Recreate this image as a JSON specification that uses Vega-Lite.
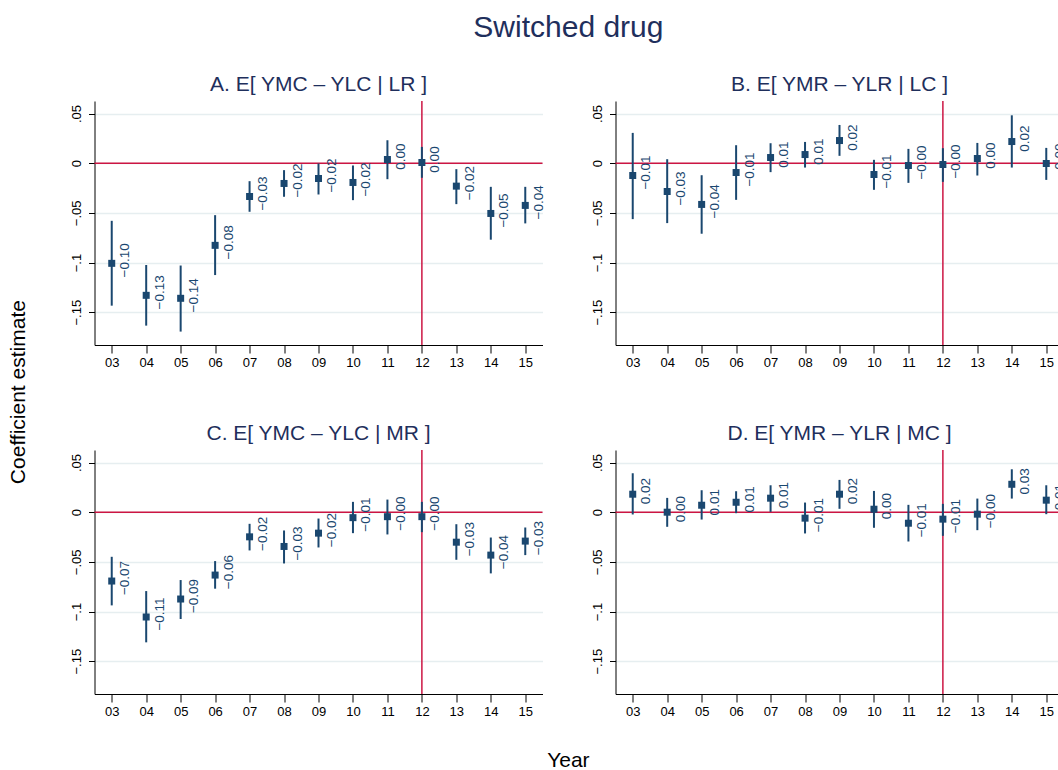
{
  "$schema": "https://vega.github.io/schema/vega-lite/v6.json",
  "padding": {"left": 6.5, "top": 13, "right": 0, "bottom": 0},
  "background": "white",
  "config": {
    "font": "Liberation Sans",
    "view": {"stroke": null},
    "axis": {"domainColor": "#000000", "domainWidth": 1, "tickColor": "#000000", "tickWidth": 1, "tickSize": 6, "labelColor": "#000000", "labelFontSize": 13, "labelFont": "Liberation Sans", "gridColor": "#e6eef0", "gridWidth": 1.5, "labelOverlap": false, "labelBound": false},
    "axisY": {"labelAngle": 270, "labelAlign": "center", "labelBaseline": "bottom", "labelPadding": 5},
    "axisX": {"labelPadding": 3, "tickSize": 8, "labelAngle": 0, "domain": true},
    "title": {"font": "Liberation Sans", "fontWeight": "normal", "color": "#1f2f5c", "fontSize": 21, "offset": 5, "anchor": "middle"}
  },
  "datasets": {
    "est": [
      {"panel": "A", "year": 3, "est": -0.1008, "lo": -0.1434, "hi": -0.058, "label": "−0.10"},
      {"panel": "A", "year": 4, "est": -0.133, "lo": -0.1635, "hi": -0.1025, "label": "−0.13"},
      {"panel": "A", "year": 5, "est": -0.136, "lo": -0.1695, "hi": -0.103, "label": "−0.14"},
      {"panel": "A", "year": 6, "est": -0.0827, "lo": -0.1126, "hi": -0.0523, "label": "−0.08"},
      {"panel": "A", "year": 7, "est": -0.0335, "lo": -0.0489, "hi": -0.0181, "label": "−0.03"},
      {"panel": "A", "year": 8, "est": -0.0204, "lo": -0.0338, "hi": -0.007, "label": "−0.02"},
      {"panel": "A", "year": 9, "est": -0.0154, "lo": -0.0315, "hi": -0.0003, "label": "−0.02"},
      {"panel": "A", "year": 10, "est": -0.0194, "lo": -0.0372, "hi": -0.0023, "label": "−0.02"},
      {"panel": "A", "year": 11, "est": 0.0037, "lo": -0.0161, "hi": 0.0231, "label": "0.00"},
      {"panel": "A", "year": 12, "est": 0.0007, "lo": -0.0147, "hi": 0.0164, "label": "0.00"},
      {"panel": "A", "year": 13, "est": -0.0231, "lo": -0.0412, "hi": -0.006, "label": "−0.02"},
      {"panel": "A", "year": 14, "est": -0.0506, "lo": -0.077, "hi": -0.0238, "label": "−0.05"},
      {"panel": "A", "year": 15, "est": -0.0425, "lo": -0.0606, "hi": -0.0238, "label": "−0.04"},
      {"panel": "B", "year": 3, "est": -0.0124, "lo": -0.0563, "hi": 0.0305, "label": "−0.01"},
      {"panel": "B", "year": 4, "est": -0.0285, "lo": -0.0603, "hi": 0.004, "label": "−0.03"},
      {"panel": "B", "year": 5, "est": -0.0415, "lo": -0.071, "hi": -0.0121, "label": "−0.04"},
      {"panel": "B", "year": 6, "est": -0.0094, "lo": -0.0369, "hi": 0.0181, "label": "−0.01"},
      {"panel": "B", "year": 7, "est": 0.0057, "lo": -0.009, "hi": 0.0201, "label": "0.01"},
      {"panel": "B", "year": 8, "est": 0.0087, "lo": -0.0044, "hi": 0.0214, "label": "0.01"},
      {"panel": "B", "year": 9, "est": 0.0228, "lo": 0.0074, "hi": 0.0385, "label": "0.02"},
      {"panel": "B", "year": 10, "est": -0.0114, "lo": -0.0268, "hi": 0.0034, "label": "−0.01"},
      {"panel": "B", "year": 11, "est": -0.0023, "lo": -0.0198, "hi": 0.0144, "label": "−0.00"},
      {"panel": "B", "year": 12, "est": -0.0013, "lo": -0.0188, "hi": 0.0151, "label": "−0.00"},
      {"panel": "B", "year": 13, "est": 0.0047, "lo": -0.0124, "hi": 0.0204, "label": "0.00"},
      {"panel": "B", "year": 14, "est": 0.0218, "lo": -0.0044, "hi": 0.0482, "label": "0.02"},
      {"panel": "B", "year": 15, "est": -0.0003, "lo": -0.0168, "hi": 0.0154, "label": "−0.00"},
      {"panel": "C", "year": 3, "est": -0.0693, "lo": -0.0938, "hi": -0.0449, "label": "−0.07"},
      {"panel": "C", "year": 4, "est": -0.1055, "lo": -0.131, "hi": -0.0794, "label": "−0.11"},
      {"panel": "C", "year": 5, "est": -0.0874, "lo": -0.1075, "hi": -0.0683, "label": "−0.09"},
      {"panel": "C", "year": 6, "est": -0.0633, "lo": -0.077, "hi": -0.0492, "label": "−0.06"},
      {"panel": "C", "year": 7, "est": -0.0248, "lo": -0.0385, "hi": -0.0117, "label": "−0.02"},
      {"panel": "C", "year": 8, "est": -0.0345, "lo": -0.0516, "hi": -0.0184, "label": "−0.03"},
      {"panel": "C", "year": 9, "est": -0.0211, "lo": -0.0355, "hi": -0.0064, "label": "−0.02"},
      {"panel": "C", "year": 10, "est": -0.0055, "lo": -0.0211, "hi": 0.0104, "label": "−0.01"},
      {"panel": "C", "year": 11, "est": -0.0045, "lo": -0.0224, "hi": 0.0127, "label": "−0.00"},
      {"panel": "C", "year": 12, "est": -0.0045, "lo": -0.0201, "hi": 0.0104, "label": "−0.00"},
      {"panel": "C", "year": 13, "est": -0.0302, "lo": -0.0479, "hi": -0.0121, "label": "−0.03"},
      {"panel": "C", "year": 14, "est": -0.0432, "lo": -0.0616, "hi": -0.0255, "label": "−0.04"},
      {"panel": "C", "year": 15, "est": -0.0291, "lo": -0.0432, "hi": -0.0154, "label": "−0.03"},
      {"panel": "D", "year": 3, "est": 0.0181, "lo": -0.0023, "hi": 0.0392, "label": "0.02"},
      {"panel": "D", "year": 4, "est": 0.0, "lo": -0.0147, "hi": 0.0144, "label": "0.00"},
      {"panel": "D", "year": 5, "est": 0.007, "lo": -0.0074, "hi": 0.0221, "label": "0.01"},
      {"panel": "D", "year": 6, "est": 0.01, "lo": -0.001, "hi": 0.0211, "label": "0.01"},
      {"panel": "D", "year": 7, "est": 0.0141, "lo": 0.0003, "hi": 0.0271, "label": "0.01"},
      {"panel": "D", "year": 8, "est": -0.006, "lo": -0.0214, "hi": 0.0097, "label": "−0.01"},
      {"panel": "D", "year": 9, "est": 0.0181, "lo": 0.0034, "hi": 0.0325, "label": "0.02"},
      {"panel": "D", "year": 10, "est": 0.003, "lo": -0.0157, "hi": 0.0214, "label": "0.00"},
      {"panel": "D", "year": 11, "est": -0.0111, "lo": -0.0295, "hi": 0.0074, "label": "−0.01"},
      {"panel": "D", "year": 12, "est": -0.007, "lo": -0.0238, "hi": 0.0084, "label": "−0.01"},
      {"panel": "D", "year": 13, "est": -0.002, "lo": -0.0181, "hi": 0.0137, "label": "−0.00"},
      {"panel": "D", "year": 14, "est": 0.0281, "lo": 0.0137, "hi": 0.0432, "label": "0.03"},
      {"panel": "D", "year": 15, "est": 0.0121, "lo": -0.002, "hi": 0.0271, "label": "0.01"}
    ]
  },
  "title": {"text": "Coefficient estimate", "orient": "left", "fontSize": 21, "color": "#000000", "offset": 42, "anchor": "middle"},
  "vconcat": [
    {
      "title": {"text": "Switched drug", "fontSize": 30, "color": "#1f2f5c", "offset": 31, "anchor": "middle"},
      "vconcat": [
        {
          "title": {"text": "Year", "orient": "bottom", "fontSize": 21, "color": "#000000", "offset": 32, "anchor": "middle"},
          "columns": 2,
          "spacing": {"row": 105, "column": 73},
          "bounds": "flush",
          "concat": [
            {
              "width": 448, "height": 244,
              "title": {"text": "A. E[ YMC – YLC | LR ]"},
              "data": {"name": "est"},
              "transform": [{"filter": "datum.panel == 'A'"}],
              "layer": [
                {"data": {"values": [{}]}, "mark": {"type": "rule", "color": "#cc1543", "strokeWidth": 1.5}, "encoding": {"y": {"datum": 0, "type": "quantitative", "scale": {"domain": [-0.183, 0.0626], "nice": false, "zero": false}}}},
                {"data": {"values": [{}]}, "mark": {"type": "rule", "color": "#cc1543", "strokeWidth": 1.5}, "encoding": {"x": {"datum": 12, "type": "ordinal", "scale": {"type": "point", "padding": 0.5, "domain": [3,4,5,6,7,8,9,10,11,12,13,14,15]}}}},
                {"mark": {"type": "rule", "color": "#1a476f", "strokeWidth": 2}, "encoding": {
                  "x": {"field": "year", "type": "ordinal", "scale": {"type": "point", "padding": 0.5, "domain": [3,4,5,6,7,8,9,10,11,12,13,14,15]}, "axis": {"labelExpr": "(datum.value < 10 ? '0' : '') + datum.value", "title": null, "grid": false, "labelOverlap": false, "labelAngle": 0}},
                  "y": {"field": "lo", "type": "quantitative", "scale": {"domain": [-0.183, 0.0626], "nice": false, "zero": false}, "axis": {"values": [-0.15, -0.1, -0.05, 0, 0.05], "labelExpr": "datum.value == 0 ? '0' : (datum.value < 0 ? '−' : '') + replace(format(abs(datum.value), '.2~f'), '0.', '.')", "title": null, "grid": true}},
                  "y2": {"field": "hi"}}},
                {"mark": {"type": "point", "shape": "square", "filled": true, "size": 49, "color": "#1a476f", "opacity": 1}, "encoding": {
                  "x": {"field": "year", "type": "ordinal"},
                  "y": {"field": "est", "type": "quantitative"}}},
                {"mark": {"type": "text", "angle": 270, "align": "center", "baseline": "middle", "dx": 3, "dy": 13.5, "fontSize": 13.5, "color": "#1a476f"}, "encoding": {
                  "x": {"field": "year", "type": "ordinal"},
                  "y": {"field": "est", "type": "quantitative"},
                  "text": {"field": "label"}}}
              ]
            },
            {
              "width": 448, "height": 244,
              "title": {"text": "B. E[ YMR – YLR | LC ]"},
              "data": {"name": "est"},
              "transform": [{"filter": "datum.panel == 'B'"}],
              "layer": [
                {"data": {"values": [{}]}, "mark": {"type": "rule", "color": "#cc1543", "strokeWidth": 1.5}, "encoding": {"y": {"datum": 0, "type": "quantitative", "scale": {"domain": [-0.183, 0.0626], "nice": false, "zero": false}}}},
                {"data": {"values": [{}]}, "mark": {"type": "rule", "color": "#cc1543", "strokeWidth": 1.5}, "encoding": {"x": {"datum": 12, "type": "ordinal", "scale": {"type": "point", "padding": 0.5, "domain": [3,4,5,6,7,8,9,10,11,12,13,14,15]}}}},
                {"mark": {"type": "rule", "color": "#1a476f", "strokeWidth": 2}, "encoding": {
                  "x": {"field": "year", "type": "ordinal", "scale": {"type": "point", "padding": 0.5, "domain": [3,4,5,6,7,8,9,10,11,12,13,14,15]}, "axis": {"labelExpr": "(datum.value < 10 ? '0' : '') + datum.value", "title": null, "grid": false, "labelOverlap": false, "labelAngle": 0}},
                  "y": {"field": "lo", "type": "quantitative", "scale": {"domain": [-0.183, 0.0626], "nice": false, "zero": false}, "axis": {"values": [-0.15, -0.1, -0.05, 0, 0.05], "labelExpr": "datum.value == 0 ? '0' : (datum.value < 0 ? '−' : '') + replace(format(abs(datum.value), '.2~f'), '0.', '.')", "title": null, "grid": true}},
                  "y2": {"field": "hi"}}},
                {"mark": {"type": "point", "shape": "square", "filled": true, "size": 49, "color": "#1a476f", "opacity": 1}, "encoding": {
                  "x": {"field": "year", "type": "ordinal"},
                  "y": {"field": "est", "type": "quantitative"}}},
                {"mark": {"type": "text", "angle": 270, "align": "center", "baseline": "middle", "dx": 3, "dy": 13.5, "fontSize": 13.5, "color": "#1a476f"}, "encoding": {
                  "x": {"field": "year", "type": "ordinal"},
                  "y": {"field": "est", "type": "quantitative"},
                  "text": {"field": "label"}}}
              ]
            },
            {
              "width": 448, "height": 244,
              "title": {"text": "C. E[ YMC – YLC | MR ]"},
              "data": {"name": "est"},
              "transform": [{"filter": "datum.panel == 'C'"}],
              "layer": [
                {"data": {"values": [{}]}, "mark": {"type": "rule", "color": "#cc1543", "strokeWidth": 1.5}, "encoding": {"y": {"datum": 0, "type": "quantitative", "scale": {"domain": [-0.183, 0.0626], "nice": false, "zero": false}}}},
                {"data": {"values": [{}]}, "mark": {"type": "rule", "color": "#cc1543", "strokeWidth": 1.5}, "encoding": {"x": {"datum": 12, "type": "ordinal", "scale": {"type": "point", "padding": 0.5, "domain": [3,4,5,6,7,8,9,10,11,12,13,14,15]}}}},
                {"mark": {"type": "rule", "color": "#1a476f", "strokeWidth": 2}, "encoding": {
                  "x": {"field": "year", "type": "ordinal", "scale": {"type": "point", "padding": 0.5, "domain": [3,4,5,6,7,8,9,10,11,12,13,14,15]}, "axis": {"labelExpr": "(datum.value < 10 ? '0' : '') + datum.value", "title": null, "grid": false, "labelOverlap": false, "labelAngle": 0}},
                  "y": {"field": "lo", "type": "quantitative", "scale": {"domain": [-0.183, 0.0626], "nice": false, "zero": false}, "axis": {"values": [-0.15, -0.1, -0.05, 0, 0.05], "labelExpr": "datum.value == 0 ? '0' : (datum.value < 0 ? '−' : '') + replace(format(abs(datum.value), '.2~f'), '0.', '.')", "title": null, "grid": true}},
                  "y2": {"field": "hi"}}},
                {"mark": {"type": "point", "shape": "square", "filled": true, "size": 49, "color": "#1a476f", "opacity": 1}, "encoding": {
                  "x": {"field": "year", "type": "ordinal"},
                  "y": {"field": "est", "type": "quantitative"}}},
                {"mark": {"type": "text", "angle": 270, "align": "center", "baseline": "middle", "dx": 3, "dy": 13.5, "fontSize": 13.5, "color": "#1a476f"}, "encoding": {
                  "x": {"field": "year", "type": "ordinal"},
                  "y": {"field": "est", "type": "quantitative"},
                  "text": {"field": "label"}}}
              ]
            },
            {
              "width": 448, "height": 244,
              "title": {"text": "D. E[ YMR – YLR | MC ]"},
              "data": {"name": "est"},
              "transform": [{"filter": "datum.panel == 'D'"}],
              "layer": [
                {"data": {"values": [{}]}, "mark": {"type": "rule", "color": "#cc1543", "strokeWidth": 1.5}, "encoding": {"y": {"datum": 0, "type": "quantitative", "scale": {"domain": [-0.183, 0.0626], "nice": false, "zero": false}}}},
                {"data": {"values": [{}]}, "mark": {"type": "rule", "color": "#cc1543", "strokeWidth": 1.5}, "encoding": {"x": {"datum": 12, "type": "ordinal", "scale": {"type": "point", "padding": 0.5, "domain": [3,4,5,6,7,8,9,10,11,12,13,14,15]}}}},
                {"mark": {"type": "rule", "color": "#1a476f", "strokeWidth": 2}, "encoding": {
                  "x": {"field": "year", "type": "ordinal", "scale": {"type": "point", "padding": 0.5, "domain": [3,4,5,6,7,8,9,10,11,12,13,14,15]}, "axis": {"labelExpr": "(datum.value < 10 ? '0' : '') + datum.value", "title": null, "grid": false, "labelOverlap": false, "labelAngle": 0}},
                  "y": {"field": "lo", "type": "quantitative", "scale": {"domain": [-0.183, 0.0626], "nice": false, "zero": false}, "axis": {"values": [-0.15, -0.1, -0.05, 0, 0.05], "labelExpr": "datum.value == 0 ? '0' : (datum.value < 0 ? '−' : '') + replace(format(abs(datum.value), '.2~f'), '0.', '.')", "title": null, "grid": true}},
                  "y2": {"field": "hi"}}},
                {"mark": {"type": "point", "shape": "square", "filled": true, "size": 49, "color": "#1a476f", "opacity": 1}, "encoding": {
                  "x": {"field": "year", "type": "ordinal"},
                  "y": {"field": "est", "type": "quantitative"}}},
                {"mark": {"type": "text", "angle": 270, "align": "center", "baseline": "middle", "dx": 3, "dy": 13.5, "fontSize": 13.5, "color": "#1a476f"}, "encoding": {
                  "x": {"field": "year", "type": "ordinal"},
                  "y": {"field": "est", "type": "quantitative"},
                  "text": {"field": "label"}}}
              ]
            }
          ]
        }
      ]
    }
  ]
}
